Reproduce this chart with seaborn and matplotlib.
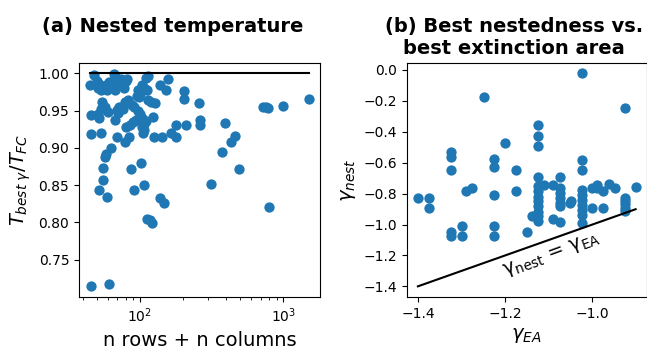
import matplotlib
matplotlib.use("Agg")
import matplotlib.pyplot as plt
import seaborn as sns

# ---- Panel (a): nested temperature ----
size_n = [46, 61, 798, 1517, 1000, 725, 755, 780, 493, 460, 432, 394, 372, 314,
          259, 265, 264, 205, 204, 209, 180, 180, 166, 158, 152, 139, 143, 125,
          138, 148, 112, 118, 122, 107, 102, 92, 87.5, 63, 59, 55.5, 55.5, 57,
          58, 52, 46, 54, 46, 51.5, 52, 45, 48, 50, 52, 51, 54, 58, 61, 59, 66,
          67, 67, 70, 72, 74, 76, 78, 80, 82, 55, 57, 60, 54, 67, 69, 72, 71, 76,
          69.5, 78.6, 84, 80, 85, 90, 95, 79, 83, 88, 92, 98, 100, 96, 99, 104,
          108, 112, 97, 100, 104, 110, 108, 104, 111, 114, 124, 108, 106, 114,
          120, 127]
temp_ratio = [0.714, 0.717, 0.820, 0.965, 0.956, 0.955, 0.955, 0.954, 0.872,
              0.916, 0.908, 0.933, 0.894, 0.851, 0.960, 0.937, 0.930, 0.976,
              0.965, 0.931, 0.931, 0.914, 0.920, 0.992, 0.978, 0.984, 0.915,
              0.915, 0.832, 0.826, 0.804, 0.803, 0.799, 0.850, 0.879, 0.843,
              0.871, 0.900, 0.834, 0.857, 0.873, 0.888, 0.892, 0.844, 0.918,
              0.920, 0.944, 0.946, 0.940, 0.984, 0.998, 0.990, 0.986, 0.980,
              0.978, 0.985, 0.988, 0.977, 0.999, 0.997, 0.978, 0.984, 0.990,
              0.993, 0.985, 0.980, 0.990, 0.993, 0.962, 0.955, 0.948, 0.952,
              0.938, 0.951, 0.955, 0.947, 0.952, 0.915, 0.908, 0.914, 0.928,
              0.930, 0.935, 0.937, 0.962, 0.964, 0.958, 0.955, 0.978, 0.972,
              0.970, 0.968, 0.984, 0.981, 0.978, 0.950, 0.946, 0.940, 0.936,
              0.932, 0.928, 0.994, 0.997, 0.942, 0.924, 0.920, 0.964, 0.962,
              0.960]

# ---- Panel (b): best nestedness vs best extinction area ----
gamma_ea = [-1.4, -1.375, -1.375, -1.325, -1.325, -1.325, -1.325, -1.325,
            -1.3, -1.3, -1.29, -1.276, -1.249, -1.225, -1.225, -1.225, -1.225,
            -1.225, -1.2, -1.175, -1.175, -1.151, -1.139, -1.125, -1.125,
            -1.125, -1.125, -1.125, -1.125, -1.125, -1.125, -1.125, -1.125,
            -1.125, -1.125, -1.112, -1.09, -1.09, -1.075, -1.075, -1.075,
            -1.075, -1.075, -1.075, -1.075, -1.052, -1.048, -1.025, -1.025,
            -1.025, -1.025, -1.025, -1.025, -1.025, -1.025, -1.025, -1.025,
            -1.0, -1.0, -0.99, -0.99, -0.976, -0.976, -0.962, -0.949, -0.926,
            -0.926, -0.926, -0.926, -0.926, -0.925, -0.901]
gamma_nest = [-0.829, -0.829, -0.894, -0.534, -0.560, -0.646, -1.051, -1.077,
              -1.008, -1.077, -0.786, -0.763, -0.177, -0.577, -0.629, -0.808,
              -1.008, -1.073, -0.474, -0.650, -0.786, -1.051, -0.943, -0.355,
              -0.426, -0.491, -0.694, -0.754, -0.786, -0.819, -0.851, -0.883,
              -0.916, -0.948, -0.980, -0.743, -0.743, -0.965, -0.986, -0.694,
              -0.765, -0.797, -0.829, -0.862, -0.883, -0.860, -0.850, -0.022,
              -0.581, -0.650, -0.776, -0.808, -0.840, -0.872, -0.905, -0.937,
              -0.991, -0.765, -0.894, -0.743, -0.765, -0.786, -0.894, -0.737,
              -0.765, -0.829, -0.850, -0.870, -0.894, -0.915, -0.248, -0.758]

BLUE = "#1f77b4"
fig = plt.figure(figsize=(6.47, 3.49), dpi=100)
plt.rcParams["font.family"] = ["DejaVu Sans"]

W, H = 647.0, 349.0
ax1 = fig.add_axes([79 / W, 1 - 297 / H, 241 / W, 234.3 / H])
ax2 = fig.add_axes([407 / W, 1 - 297 / H, 239.5 / W, 234.3 / H])

# Panel (a)
sns.scatterplot(x=size_n, y=temp_ratio, ax=ax1, color=BLUE, s=55,
                linewidth=0, legend=False)
ax1.plot([min(size_n), max(size_n)], [1, 1], color="k", lw=1.5)
ax1.set_xscale("log")
ax1.set_xlabel("n rows + n columns", fontsize=14)
ax1.set_ylabel(r"$T_{best\ \gamma}/T_{FC}$", fontsize=14)
ax1.set_title("(a) Nested temperature\n", fontsize=14, fontweight="bold",
              x=0.388)
ax1.set_yticks([0.75, 0.80, 0.85, 0.90, 0.95, 1.00])
ax1.tick_params(labelsize=10)

# Panel (b)
sns.scatterplot(x=gamma_ea, y=gamma_nest, ax=ax2, color=BLUE, s=55,
                linewidth=0, legend=False)
lo, hi = min(gamma_ea), max(gamma_ea)
ax2.plot([lo, hi], [lo, hi], color="k", lw=1.5)
ax2.text(-1.093, -1.195, "γ$_{\\mathrm{nest}}$ = γ$_{\\mathrm{EA}}$",
         fontsize=14, rotation=20, ha="center", va="center",
         rotation_mode="anchor")
ax2.set_xlabel(r"$\gamma_{EA}$", fontsize=14)
ax2.set_ylabel(r"$\gamma_{nest}$", fontsize=14)
ax2.set_title("(b) Best nestedness vs.\nbest extinction area", fontsize=14,
              fontweight="bold", x=0.447)
ax2.set_xticks([-1.4, -1.2, -1.0])
ax2.set_yticks([0.0, -0.2, -0.4, -0.6, -0.8, -1.0, -1.2, -1.4])
ax2.tick_params(labelsize=10)

fig.savefig("out.png", dpi=100)
